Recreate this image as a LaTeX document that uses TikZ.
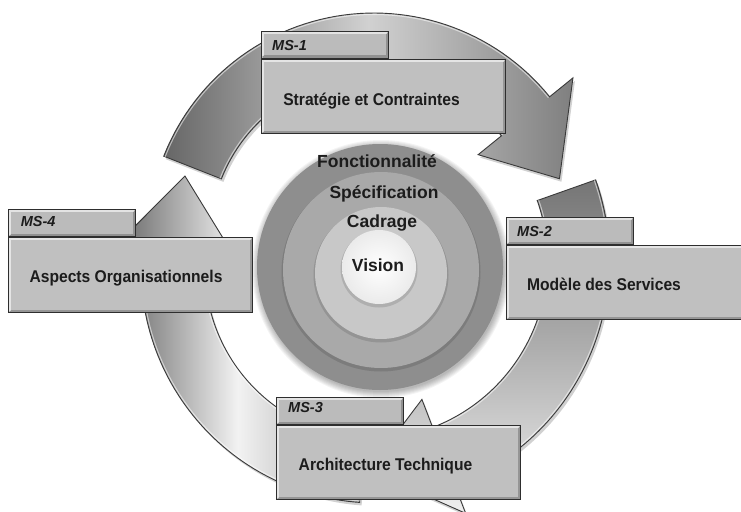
\documentclass[tikz,border=0pt]{standalone}
\usepackage{fontspec}
\setmainfont{Liberation Sans}
\newfontfamily\boxfont[FakeStretch=0.92]{Liberation Sans}
\definecolor{boxfill}{HTML}{C0C0C0}
\definecolor{tabfill}{HTML}{BBBBBB}
\definecolor{boxline}{HTML}{2E2E2E}
\definecolor{txt}{HTML}{1C1C1C}
\definecolor{ringA}{HTML}{8E8E8E}
\definecolor{ringB}{HTML}{A9A9A9}
\definecolor{ringC}{HTML}{C8C8C8}
\definecolor{arrline}{HTML}{3A3A3A}
\tikzset{
  msbox/.style={rectangle, draw=boxline, fill=boxfill, line width=1.2pt, minimum width=244pt, minimum height=74pt, inner sep=0pt, anchor=north west},
  mstab/.style={rectangle, draw=boxline, fill=tabfill, line width=1.2pt, minimum width=127pt, minimum height=27pt, inner sep=0pt, anchor=south west},
  boxtext/.style={font=\boxfont\bfseries\fontsize{17}{20}\selectfont, text=txt, anchor=base, inner sep=0pt},
  mslabel/.style={font=\bfseries\itshape\fontsize{14.5}{17}\selectfont, text=txt, anchor=base west, inner sep=0pt},
  ringtext/.style={font=\bfseries\fontsize{17.5}{20}\selectfont, text=txt, anchor=base, inner sep=0pt},
  bevhi/.style={draw=white, line width=1.6pt, opacity=0.6},
  bevlo/.style={draw=black, line width=2.6pt, opacity=0.22},
  arrowedge/.style={draw=arrline, line width=0.9pt},
  arrowshadow/.style={fill=black, opacity=0.18},
  rimline/.style={draw=white, line width=1pt, opacity=0.55},
}
% #1 options, #2 mid radius, #3 half width, #4 tail angle, #5 head base angle, #6 tip angle, #7 tip radius, #8 barb half width
\newcommand\cyclearrow[8][]{%
  \path[#1] plot[domain=#4:#5, samples=60] ({(#2+#3)*cos(\x)}, {-(#2+#3)*sin(\x)})
    -- ({(#2+#8)*cos(#5)}, {-(#2+#8)*sin(#5)})
    -- ({#7*cos(#6)}, {-#7*sin(#6)})
    -- ({(#2-#8)*cos(#5)}, {-(#2-#8)*sin(#5)})
    -- plot[domain=#5:#4, samples=60] ({(#2-#3)*cos(\x)}, {-(#2-#3)*sin(\x)})
    -- cycle;}
% #1 options, #2 radius, #3 from angle, #4 to angle
\newcommand\arrowrim[4][]{%
  \path[#1] plot[domain=#3:#4, samples=50] ({#2*cos(\x)}, {-#2*sin(\x)});}
\newcommand\bevelbox[1]{%
  \draw[bevlo] ([shift={(2.2,-2.2)}]#1.south west) -- ([shift={(-2.2,-2.2)}]#1.south east) -- ([shift={(-2.2,2.2)}]#1.north east);
  \draw[bevhi] ([shift={(2,-2.5)}]#1.south west) -- ([shift={(2,2)}]#1.north west) -- ([shift={(-2.5,2)}]#1.north east);}
\begin{document}
\begin{tikzpicture}[x=1pt, y=-1pt]
\useasboundingbox (0,0) rectangle (741,511);
\fill[white] (0,0) rectangle (741,511);
\clip (0,0) rectangle (741,511);

% ---- cycle arrows ----
% left arrow (bottom -> up-left)
\cyclearrow[arrowshadow, shift={(378,271)}]{203}{32}{-94}{-184}{-205.7}{212}{62}
\cyclearrow[shift={(376,268)}, shade, left color=black!62, right color=black!38, middle color=black!5, arrowedge]{203}{32}{-94}{-184}{-205.7}{212}{62}
\arrowrim[rimline, shift={(376,268)}]{233.5}{-94}{-184}
\arrowrim[rimline, shift={(376,268)}]{172.5}{-94}{-184}
% right arrow (upper right -> bottom)
\cyclearrow[arrowshadow, shift={(370.5,263.3)}]{210}{31}{19.5}{-69}{-90}{210}{61}
\cyclearrow[shift={(368.5,260.3)}, shade, top color=black!54, bottom color=black!6, middle color=black!32, arrowedge]{210}{31}{19.5}{-69}{-90}{210}{61}
\arrowrim[rimline, shift={(368.5,260.3)}]{239.5}{19.5}{-69}
\arrowrim[rimline, shift={(368.5,260.3)}]{180.5}{19.5}{-69}
% top arrow (upper left -> right)
\cyclearrow[arrowshadow, shift={(376,242)}]{195}{31}{158.5}{39}{18}{195}{61}
\cyclearrow[shift={(374,239)}, shade, left color=black!60, right color=black!50, middle color=black!18, arrowedge]{195}{31}{158.5}{39}{18}{195}{61}
\arrowrim[rimline, shift={(374,239)}]{224.5}{158.5}{39}
\arrowrim[rimline, shift={(374,239)}]{165.5}{158.5}{39}

% ---- concentric circles ----
\foreach \k in {1,...,7} \fill[black, opacity=0.045] (381,269) circle[radius={122+\k}];
\fill[ringA] (380,267) circle[radius=123];
\fill[black, opacity=0.12] (381,272) circle[radius=99.5];
\fill[ringB] (381,270) circle[radius=98];
\fill[black, opacity=0.12] (381,275) circle[radius=67.5];
\fill[ringC] (381,273) circle[radius=66];
\fill[black, opacity=0.12] (379,269) circle[radius=38.5];
\shade[inner color=white, outer color=black!8] (379,267) circle[radius=37];
\node[ringtext] (fonc) at (377,167.7) {Fonctionnalité};
\node[ringtext] (spec) at (384,198.3) {Spécification};
\node[ringtext] (cadr) at (382,227.3) {Cadrage};
\node[ringtext] (visi) at (378,271.7) {Vision};

% ---- boxes ----
% MS-1
\node[mstab] (tab1) at (261,59) {};
\node[msbox] (box1) at (261,59) {};
\bevelbox{tab1}\bevelbox{box1}
\node[mslabel] (lab1) at (272,50.7) {MS-1};
\node[boxtext] (txt1) at (371.5,105) {Stratégie et Contraintes};
% MS-4
\node[mstab] (tab4) at (8,237) {};
\node[msbox, minimum height=75pt] (box4) at (8,237) {};
\bevelbox{tab4}\bevelbox{box4}
\node[mslabel] (lab4) at (20.7,226.7) {MS-4};
\node[boxtext] (txt4) at (126,282.7) {Aspects Organisationnels};
% MS-2
\node[mstab] (tab2) at (506,245) {};
\node[msbox] (box2) at (506,245) {};
\bevelbox{tab2}\bevelbox{box2}
\node[mslabel] (lab2) at (517,236) {MS-2};
\node[boxtext] (txt2) at (604,290) {Modèle des Services};
% MS-3
\node[mstab] (tab3) at (276,425) {};
\node[msbox] (box3) at (276,425) {};
\bevelbox{tab3}\bevelbox{box3}
\node[mslabel] (lab3) at (288,412.7) {MS-3};
\node[boxtext] (txt3) at (385.5,470) {Architecture Technique};
\end{tikzpicture}
\end{document}
